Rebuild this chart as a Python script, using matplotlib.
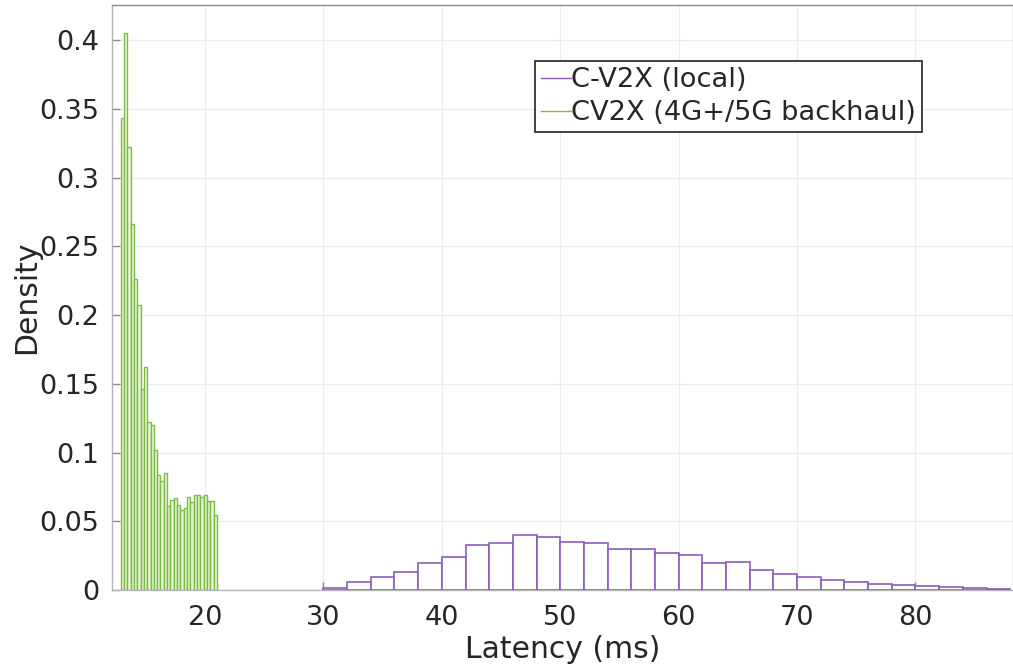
import numpy as np
import matplotlib
matplotlib.use("Agg")
import matplotlib.pyplot as plt
from matplotlib.lines import Line2D

# ---------------- data ----------------
# CV2X (4G+/5G backhaul): narrow bins
green_start = 12.88
green_width = 0.28
green_density = [0.343, 0.405, 0.322, 0.266, 0.226, 0.207, 0.146, 0.162,
                 0.122, 0.120, 0.1015, 0.084, 0.079, 0.085, 0.061, 0.0657,
                 0.067, 0.062, 0.058, 0.060, 0.068, 0.064, 0.0693, 0.069,
                 0.068, 0.069, 0.0645, 0.0645, 0.0547]

# C-V2X (local): 2 ms bins
purple_start = 30.0
purple_width = 2.0
purple_density = [0.0012, 0.0061, 0.0092, 0.0129, 0.0197, 0.0238, 0.033, 0.034,
                  0.0399, 0.0386, 0.0352, 0.034, 0.0299, 0.0301, 0.0272, 0.0258,
                  0.0199, 0.0202, 0.0148, 0.0115, 0.0092, 0.0071, 0.0058, 0.0046,
                  0.0034, 0.0027, 0.0024, 0.0012, 0.0010]

xticks = [20, 30, 40, 50, 60, 70, 80]
yticks = [0, 0.05, 0.1, 0.15, 0.2, 0.25, 0.3, 0.35, 0.4]
ytick_labels = ["0", "0.05", "0.1", "0.15", "0.2", "0.25", "0.3", "0.35", "0.4"]
labels = ["C-V2X (local)", "CV2X (4G+/5G backhaul)"]

# ---------------- plot ----------------
plt.rcParams['font.family'] = ['DejaVu Sans']
fig = plt.figure(figsize=(10.13, 6.70), dpi=100)
ax = fig.add_axes([0.1106, 0.1194, 0.889, 0.873])

purple_edge = '#8a5cc0'
green_edge = '#7cbb4a'
green_face = '#e6f6d2'

g_left = green_start + green_width * np.arange(len(green_density))
p_left = purple_start + purple_width * np.arange(len(purple_density))

ax.bar(p_left, purple_density, width=purple_width, align='edge',
       facecolor='white', edgecolor=purple_edge, linewidth=1.2, zorder=3)
ax.bar(g_left, green_density, width=green_width, align='edge',
       facecolor=green_face, edgecolor=green_edge, linewidth=1.0, zorder=3)

ax.set_xlim(12.15, 88.2)
ax.set_ylim(0, 0.4255)
ax.set_xticks(xticks)
ax.set_yticks(yticks)
ax.set_yticklabels(ytick_labels)

ax.grid(True, color='#ececec', linewidth=0.9, zorder=0)
ax.set_axisbelow(True)
for side in ['left', 'bottom', 'top', 'right']:
    ax.spines[side].set_color('#b5b5b5')
    ax.spines[side].set_linewidth(1.0)
ax.spines['top'].set_color('#8a8a8a')

ax.tick_params(axis='both', direction='in', length=6, width=1.0,
               color='#8a8a8a', labelsize=19.5, labelcolor='#262626')
ax.tick_params(axis='y', pad=9)
ax.tick_params(axis='x', pad=11)

ax.set_xlabel('Latency (ms)', fontsize=21.5, color='#262626', labelpad=3)
ax.set_ylabel('Density', fontsize=21.5, color='#262626', labelpad=-1)

handles = [Line2D([0], [0], color=purple_edge, lw=1.0),
           Line2D([0], [0], color=green_edge, lw=1.0)]
leg = ax.legend(handles, labels, loc='upper left',
                bbox_to_anchor=(0.4697, 0.904), fontsize=19.6,
                frameon=True, fancybox=False, framealpha=1.0,
                edgecolor='#222222', handlelength=1.1, handletextpad=0.0,
                borderpad=0.22, labelspacing=0.25, borderaxespad=0)
leg.get_frame().set_linewidth(1.2)
for t in leg.get_texts():
    t.set_color('#262626')

fig.savefig('out.png', dpi=100)
